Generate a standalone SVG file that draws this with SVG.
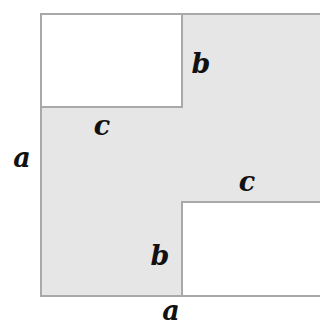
<svg xmlns="http://www.w3.org/2000/svg" width="320" height="327" viewBox="0 0 320 327">
<style>
.sq{fill:#e6e6e6;stroke:#a9a9a9;stroke-width:2}
.hole{fill:#ffffff;stroke:#a9a9a9;stroke-width:2}
.lbl{font-family:"DejaVu Serif","Liberation Serif",serif;font-style:italic;font-weight:bold;font-size:27px;fill:#111;text-anchor:middle}
</style>
<rect width="320" height="327" fill="#ffffff"/>
<g id="outer-square"><rect class="sq" x="41" y="14" width="285" height="282"/></g>
<g id="top-left-rect"><rect class="hole" x="41" y="14" width="141" height="93"/></g>
<g id="bottom-right-rect"><rect class="hole" x="182" y="202" width="144" height="94"/></g>
<g id="labels">
<text class="lbl" x="201" y="73">b</text>
<text class="lbl" x="102" y="135">c</text>
<text class="lbl" x="22" y="167">a</text>
<text class="lbl" x="247" y="191">c</text>
<text class="lbl" x="160" y="265">b</text>
<text class="lbl" x="171" y="320">a</text>
</g>
</svg>
